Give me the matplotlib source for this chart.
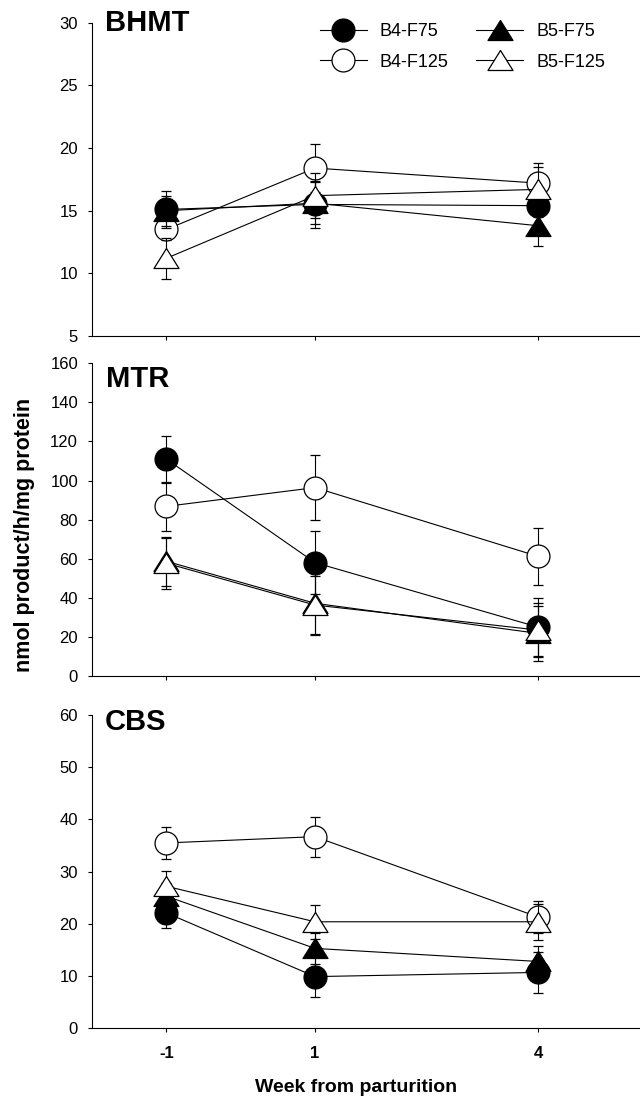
import matplotlib
matplotlib.use('Agg')
import matplotlib.pyplot as plt
from matplotlib.path import Path

plt.rcParams['font.family'] = ['Liberation Sans', 'DejaVu Sans']

# ---------------- data ----------------
weeks = [-1, 1, 4]
week_labels = ['-1', '1', '4']
series_names = ['B4-F75', 'B4-F125', 'B5-F75', 'B5-F125']
panel_names = ['BHMT', 'MTR', 'CBS']

bhmt_b4f75 = [15.1, 15.5, 15.4]
bhmt_b4f75_err = [1.45, 1.9, 0.9]
bhmt_b4f125 = [13.5, 18.4, 17.2]
bhmt_b4f125_err = [0.8, 1.9, 1.6]
bhmt_b5f75 = [15.0, 15.6, 13.8]
bhmt_b5f75_err = [1.2, 1.7, 1.6]
bhmt_b5f125 = [11.2, 16.2, 16.7]
bhmt_b5f125_err = [1.65, 1.8, 1.75]

mtr_b4f75 = [111.0, 58.0, 25.0]
mtr_b4f75_err = [12.0, 16.0, 15.0]
mtr_b4f125 = [86.8, 96.4, 61.2]
mtr_b4f125_err = [12.5, 16.5, 14.4]
mtr_b5f75 = [58.7, 37.2, 21.8]
mtr_b5f75_err = [12.5, 16.0, 14.0]
mtr_b5f125 = [57.7, 36.3, 23.5]
mtr_b5f125_err = [13.0, 15.0, 14.0]

cbs_b4f75 = [22.1, 9.9, 10.7]
cbs_b4f75_err = [2.8, 4.0, 3.9]
cbs_b4f125 = [35.5, 36.7, 21.3]
cbs_b4f125_err = [3.0, 3.8, 3.1]
cbs_b5f75 = [25.3, 15.3, 12.8]
cbs_b5f75_err = [2.5, 3.0, 3.0]
cbs_b5f125 = [27.2, 20.4, 20.4]
cbs_b5f125_err = [3.0, 3.3, 3.5]

bhmt_yticks = [5, 10, 15, 20, 25, 30]
mtr_yticks = [0, 20, 40, 60, 80, 100, 120, 140, 160]
cbs_yticks = [0, 10, 20, 30, 40, 50, 60]

panels = [
    dict(name='BHMT', yticks=bhmt_yticks,
         data={'B4-F75': (bhmt_b4f75, bhmt_b4f75_err), 'B4-F125': (bhmt_b4f125, bhmt_b4f125_err),
               'B5-F75': (bhmt_b5f75, bhmt_b5f75_err), 'B5-F125': (bhmt_b5f125, bhmt_b5f125_err)}),
    dict(name='MTR', yticks=mtr_yticks,
         data={'B4-F75': (mtr_b4f75, mtr_b4f75_err), 'B4-F125': (mtr_b4f125, mtr_b4f125_err),
               'B5-F75': (mtr_b5f75, mtr_b5f75_err), 'B5-F125': (mtr_b5f125, mtr_b5f125_err)}),
    dict(name='CBS', yticks=cbs_yticks,
         data={'B4-F75': (cbs_b4f75, cbs_b4f75_err), 'B4-F125': (cbs_b4f125, cbs_b4f125_err),
               'B5-F75': (cbs_b5f75, cbs_b5f75_err), 'B5-F125': (cbs_b5f125, cbs_b5f125_err)}),
]

# ---------------- styles ----------------
tri = Path([(-1, -0.8), (1, -0.8), (0, 0.8), (-1, -0.8)],
           [Path.MOVETO, Path.LINETO, Path.LINETO, Path.CLOSEPOLY])
styles = {
    'B4-F75': dict(marker='o', ms=16.5, mfc='black', z=4),
    'B4-F125': dict(marker='o', ms=16.5, mfc='white', z=2),
    'B5-F75': dict(marker=tri, ms=18, mfc='black', z=3),
    'B5-F125': dict(marker=tri, ms=18, mfc='white', z=5),
}

W, H = 640, 1105
fig = plt.figure(figsize=(W / 100, H / 100), dpi=100)

rects_px = [(22.7, 336.0), (363.3, 676.0), (715.0, 1028.3)]
title_pos = [(105, 30.7), (106, 386.7), (105, 730.0)]
left_px, right_px = 92, 640

axes = []
handles = {}
for i, (p, (top, bot)) in enumerate(zip(panels, rects_px)):
    ax = fig.add_axes([left_px / W, 1 - bot / H, (right_px - left_px) / W, (bot - top) / H])
    axes.append(ax)
    for name in series_names:
        y, e = p['data'][name]
        st = styles[name]
        ax.errorbar(weeks, y, yerr=e, fmt='none', ecolor='black', elinewidth=0.8,
                    capsize=3.5, capthick=0.9, zorder=st['z'])
        ln, = ax.plot(weeks, y, color='black', lw=0.8, marker=st['marker'], ms=st['ms'],
                      mfc=st['mfc'], mec='black', mew=0.9, zorder=st['z'] + 0.5,
                      label=name, clip_on=False)
        if i == 0:
            handles[name] = ln
    yt = p['yticks']
    ax.set_ylim(yt[0], yt[-1])
    ax.set_yticks(yt)
    ax.set_xlim(-2, 5.37)
    ax.set_xticks(weeks)
    ax.spines['top'].set_visible(False)
    ax.spines['right'].set_visible(False)
    for s in ('left', 'bottom'):
        ax.spines[s].set_linewidth(0.8)
    ax.tick_params(axis='y', direction='out', length=3, width=0.8, labelsize=12, pad=7)
    ax.tick_params(axis='x', direction='out', length=3, width=0.8, labelsize=12, pad=10)
    if i < 2:
        ax.set_xticklabels([])
    else:
        ax.set_xticklabels(week_labels, fontweight='bold')
    tx, ty = title_pos[i]
    fig.text(tx / W, 1 - ty / H, p['name'], fontsize=21, fontweight='bold',
             ha='left', va='baseline')

axes[0].legend([handles[n] for n in series_names], series_names, ncol=2, frameon=False,
               loc='upper left', bbox_to_anchor=(320 / W, 1 - 23 / H),
               bbox_transform=fig.transFigure, borderpad=0, borderaxespad=0,
               fontsize=13, handlelength=2.6, handletextpad=0.7, columnspacing=1.55,
               labelspacing=0.75, numpoints=1)

fig.text(356 / W, 1 - 1087 / H, 'Week from parturition', fontsize=14, fontweight='bold',
         ha='center', va='center')
fig.text(25 / W, 1 - 535 / H, 'nmol product/h/mg protein', fontsize=15.5, fontweight='bold',
         ha='center', va='center', rotation=90)

fig.savefig('out.png', dpi=100)
